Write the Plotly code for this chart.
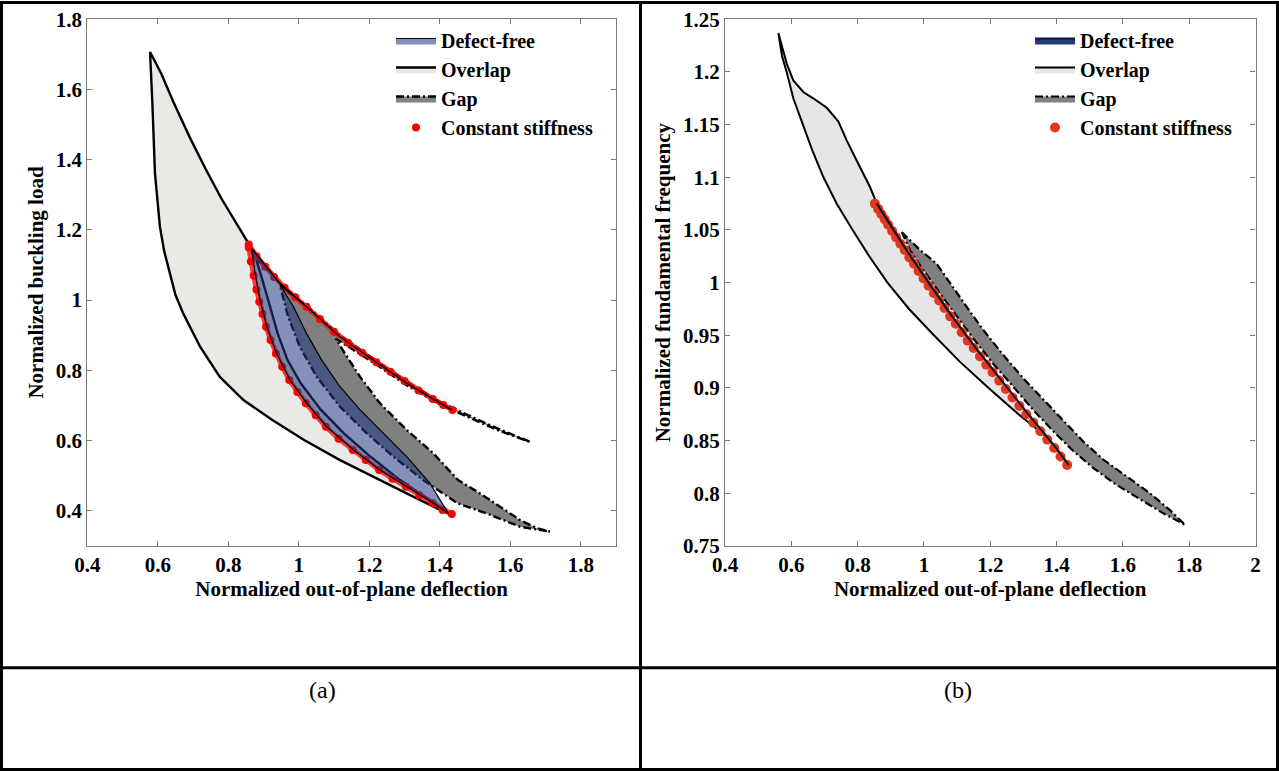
import plotly.graph_objects as go

# ---------------- Panel (a): normalized buckling load ----------------
a_ovl_lower_x = [1.424, 1.401, 1.306, 1.211, 1.117, 1.015, 0.925, 0.843, 0.776, 0.720, 0.672, 0.650, 0.635, 0.618, 0.606, 0.592, 0.585, 0.578]
a_ovl_lower_y = [0.392, 0.402, 0.449, 0.497, 0.544, 0.601, 0.658, 0.715, 0.781, 0.867, 0.962, 1.015, 1.076, 1.140, 1.209, 1.361, 1.551, 1.707]
a_ovl_upper_x = [0.610, 0.644, 0.690, 0.735, 0.780, 0.825, 0.866]
a_ovl_upper_y = [1.645, 1.565, 1.465, 1.375, 1.290, 1.215, 1.147]
a_spike_x = [0.866, 0.905, 0.947, 1.022, 1.117, 1.211, 1.306, 1.401, 1.434]
a_spike_y = [1.147, 1.098, 1.047, 0.981, 0.895, 0.829, 0.763, 0.706, 0.687]
a_ovl_inner_x = [0.880, 0.897, 0.918, 0.940, 0.968, 1.006, 1.063, 1.128, 1.203, 1.287, 1.370, 1.424]
a_ovl_inner_y = [1.114, 1.057, 0.981, 0.905, 0.829, 0.762, 0.687, 0.620, 0.554, 0.487, 0.430, 0.392]

a_df_left_x = [0.866, 0.876, 0.890, 0.909, 0.937, 0.975, 1.022, 1.079, 1.155, 1.230, 1.306, 1.382, 1.424]
a_df_left_y = [1.147, 1.076, 1.000, 0.924, 0.848, 0.772, 0.706, 0.639, 0.573, 0.516, 0.468, 0.421, 0.392]
a_df_right_x = [0.947, 0.985, 1.022, 1.065, 1.117, 1.174, 1.240, 1.306, 1.372, 1.424]
a_df_right_y = [1.043, 0.981, 0.905, 0.829, 0.753, 0.687, 0.620, 0.554, 0.478, 0.392]

a_gap_spike_x = [0.947, 1.022, 1.117, 1.211, 1.306, 1.401, 1.480, 1.560, 1.658]
a_gap_spike_y = [1.040, 0.985, 0.899, 0.833, 0.767, 0.710, 0.672, 0.636, 0.595]
a_gap_back_x = [1.560, 1.480, 1.401, 1.306, 1.211, 1.105]
a_gap_back_y = [0.631, 0.667, 0.702, 0.757, 0.822, 0.890]
a_gap_right_x = [1.122, 1.174, 1.230, 1.306, 1.382, 1.452, 1.514, 1.571, 1.628, 1.675, 1.713]
a_gap_right_y = [0.862, 0.781, 0.706, 0.630, 0.563, 0.487, 0.449, 0.411, 0.373, 0.350, 0.340]
a_gap_lower_x = [1.628, 1.533, 1.452, 1.353, 1.268, 1.193, 1.117, 1.051, 1.003, 0.970, 0.947]
a_gap_lower_y = [0.354, 0.392, 0.420, 0.487, 0.554, 0.620, 0.696, 0.781, 0.867, 0.952, 1.040]

a_cs1_x = [0.858, 0.880, 0.905, 0.930, 0.960, 0.990, 1.022, 1.060, 1.100, 1.140, 1.180, 1.220, 1.260, 1.300, 1.340, 1.380, 1.410, 1.436]
a_cs1_y = [1.158, 1.125, 1.095, 1.066, 1.035, 1.008, 0.981, 0.946, 0.910, 0.878, 0.850, 0.823, 0.796, 0.769, 0.742, 0.718, 0.701, 0.687]
a_cs2_x = [0.858, 0.864, 0.872, 0.880, 0.888, 0.897, 0.907, 0.920, 0.935, 0.953, 0.973, 0.996, 1.020, 1.048, 1.077, 1.113, 1.153, 1.190, 1.228, 1.266, 1.304, 1.342, 1.380, 1.408, 1.434]
a_cs2_y = [1.150, 1.110, 1.070, 1.030, 0.995, 0.960, 0.924, 0.886, 0.848, 0.810, 0.772, 0.738, 0.706, 0.672, 0.639, 0.605, 0.573, 0.544, 0.516, 0.491, 0.468, 0.444, 0.421, 0.402, 0.390]

a_xticks = [0.4, 0.6, 0.8, 1.0, 1.2, 1.4, 1.6, 1.8]
a_yticks = [0.4, 0.6, 0.8, 1.0, 1.2, 1.4, 1.6, 1.8]

# ---------------- Panel (b): normalized fundamental frequency ----------------
b_ovl_upper_x = [0.561, 0.586, 0.606, 0.636, 0.666, 0.707, 0.742, 0.767, 0.797, 0.837, 0.858]
b_ovl_upper_y = [1.237, 1.208, 1.192, 1.181, 1.175, 1.166, 1.153, 1.135, 1.116, 1.091, 1.075]
b_df_x = [0.858, 0.910, 0.962, 1.020, 1.085, 1.156, 1.233, 1.315, 1.399, 1.436]
b_df_y = [1.075, 1.049, 1.024, 0.997, 0.968, 0.938, 0.907, 0.875, 0.843, 0.827]
b_ovl_lower_x = [1.372, 1.285, 1.195, 1.108, 1.030, 0.955, 0.890, 0.835, 0.785, 0.737, 0.697, 0.664, 0.635, 0.606, 0.586, 0.572, 0.561]
b_ovl_lower_y = [0.853, 0.875, 0.900, 0.925, 0.950, 0.975, 1.000, 1.025, 1.050, 1.075, 1.100, 1.125, 1.150, 1.175, 1.200, 1.215, 1.237]

b_gap_upper_x = [0.933, 0.988, 1.038, 1.079, 1.129, 1.179, 1.240, 1.300, 1.360, 1.421, 1.481, 1.541, 1.612, 1.682, 1.742, 1.788]
b_gap_upper_y = [1.048, 1.031, 1.018, 0.999, 0.977, 0.955, 0.931, 0.909, 0.889, 0.868, 0.849, 0.832, 0.816, 0.800, 0.784, 0.770]
b_gap_lower_x = [1.722, 1.652, 1.581, 1.511, 1.451, 1.390, 1.330, 1.270, 1.209, 1.149, 1.099, 1.048, 0.998, 0.958, 0.933]
b_gap_lower_y = [0.781, 0.794, 0.808, 0.824, 0.840, 0.859, 0.879, 0.901, 0.923, 0.947, 0.968, 0.990, 1.012, 1.031, 1.048]

b_cs_x = [0.852, 0.862, 0.872, 0.882, 0.892, 0.904, 0.916, 0.929, 0.942, 0.956, 0.970, 0.984, 0.999, 1.014, 1.030, 1.046, 1.062, 1.079,
          1.096, 1.114, 1.132, 1.150, 1.169, 1.188, 1.207, 1.227, 1.247, 1.267, 1.288, 1.309, 1.330, 1.351, 1.372, 1.393, 1.412, 1.432]
b_cs_y = [1.075, 1.070, 1.065, 1.060, 1.055, 1.049, 1.043, 1.037, 1.031, 1.024, 1.018, 1.011, 1.004, 0.997, 0.990, 0.983, 0.976, 0.968,
          0.961, 0.953, 0.945, 0.938, 0.930, 0.922, 0.915, 0.907, 0.899, 0.891, 0.883, 0.875, 0.867, 0.859, 0.851, 0.843, 0.835, 0.827]

b_xticks = [0.4, 0.6, 0.8, 1.0, 1.2, 1.4, 1.6, 1.8, 2.0]
b_yticks = [0.75, 0.8, 0.85, 0.9, 0.95, 1.0, 1.05, 1.1, 1.15, 1.2, 1.25]

series_names = ["Defect-free", "Overlap", "Gap", "Constant stiffness"]
x_title = "Normalized out-of-plane deflection"
a_y_title = "Normalized buckling load"
b_y_title = "Normalized fundamental frequency"
panel_labels = ["(a)", "(b)"]

# ---------------- build polygons ----------------
def rev(v):
    return list(reversed(v))

a_ovl_x = a_ovl_lower_x + a_ovl_upper_x + a_spike_x[1:] + rev(a_spike_x[1:-1]) + a_ovl_inner_x
a_ovl_y = a_ovl_lower_y + a_ovl_upper_y + a_spike_y[1:] + rev(a_spike_y[1:-1]) + a_ovl_inner_y
a_df_x = a_spike_x + rev(a_spike_x[3:-1]) + a_df_right_x + rev(a_df_left_x)
a_df_y = a_spike_y + rev(a_spike_y[3:-1]) + a_df_right_y + rev(a_df_left_y)
a_gap_x = a_gap_spike_x + a_gap_back_x + a_gap_right_x + a_gap_lower_x
a_gap_y = a_gap_spike_y + a_gap_back_y + a_gap_right_y + a_gap_lower_y
a_cs_x = a_cs1_x + [None] + a_cs2_x
a_cs_y = a_cs1_y + [None] + a_cs2_y

b_ovl_x = b_ovl_upper_x + b_df_x[1:] + b_ovl_lower_x
b_ovl_y = b_ovl_upper_y + b_df_y[1:] + b_ovl_lower_y
b_dfp_x = b_df_x + rev(b_df_x[:-1])
b_dfp_y = b_df_y + rev(b_df_y[:-1])
b_gap_x = b_gap_upper_x + b_gap_lower_x
b_gap_y = b_gap_upper_y + b_gap_lower_y

FONT = "Liberation Serif"
DASHDOT = "8px,3px,2px,3px"

fig = go.Figure()

# panel (a)
fig.add_trace(go.Scatter(x=a_ovl_x, y=a_ovl_y, mode="lines", fill="toself", fillcolor="#e9e9e6",
                         line=dict(color="black", width=2.4), name=series_names[1], legendrank=2,
                         legend="legend", xaxis="x", yaxis="y"))
fig.add_trace(go.Scatter(x=a_gap_x, y=a_gap_y, mode="lines", fill="toself", fillcolor="#808080",
                         line=dict(color="black", width=2.4, dash=DASHDOT), name=series_names[2], legendrank=3,
                         legend="legend", xaxis="x", yaxis="y"))
fig.add_trace(go.Scatter(x=a_cs_x, y=a_cs_y, mode="lines", line=dict(color="rgba(255,0,0,0.75)", width=5),
                         showlegend=False, hoverinfo="skip", xaxis="x", yaxis="y"))
fig.add_trace(go.Scatter(x=a_cs_x, y=a_cs_y, mode="markers", marker=dict(color="#ff0000", size=8),
                         name=series_names[3], legendrank=4, legend="legend", xaxis="x", yaxis="y"))
fig.add_trace(go.Scatter(x=a_df_x, y=a_df_y, mode="lines", fill="toself", fillcolor="rgba(31,56,128,0.55)",
                         line=dict(color="black", width=1.2), name=series_names[0], legendrank=1,
                         legend="legend", xaxis="x", yaxis="y"))

# panel (b)
fig.add_trace(go.Scatter(x=b_ovl_x, y=b_ovl_y, mode="lines", fill="toself", fillcolor="#e6e6e6",
                         line=dict(color="black", width=2), name=series_names[1], legendrank=2,
                         legend="legend2", xaxis="x2", yaxis="y2"))
fig.add_trace(go.Scatter(x=b_gap_x, y=b_gap_y, mode="lines", fill="toself", fillcolor="#808080",
                         line=dict(color="black", width=2.2, dash=DASHDOT), name=series_names[2], legendrank=3,
                         legend="legend2", xaxis="x2", yaxis="y2"))
fig.add_trace(go.Scatter(x=b_cs_x, y=b_cs_y, mode="markers", marker=dict(color="#e2371b", size=10),
                         name=series_names[3], legendrank=4, legend="legend2", xaxis="x2", yaxis="y2"))
fig.add_trace(go.Scatter(x=b_dfp_x, y=b_dfp_y, mode="lines", fill="toself", fillcolor="#213a7c",
                         line=dict(color="#10162e", width=2), name=series_names[0], legendrank=1,
                         legend="legend2", xaxis="x2", yaxis="y2"))

W, H = 1279, 771
tickfont = dict(family=FONT, size=21, color="black", weight="bold")
titlefont = dict(family=FONT, size=21, color="black", weight="bold")
axcommon = dict(showline=True, mirror="ticks", linecolor="#7a7a7a", linewidth=1.3, ticks="inside",
                ticklen=5, tickcolor="#7a7a7a", showgrid=False, zeroline=False, tickfont=tickfont,
                automargin=False)
legfont = dict(family=FONT, size=20, color="black", weight="bold")

fig.update_layout(
    width=W, height=H, margin=dict(l=0, r=0, t=0, b=0, autoexpand=False),
    paper_bgcolor="white", plot_bgcolor="white",
    xaxis=dict(domain=[87.3 / W, 616 / W], range=[0.4, 1.9], tickvals=a_xticks, anchor="y",
               title=dict(text=x_title, font=titlefont, standoff=2), **axcommon),
    yaxis=dict(domain=[(H - 545.7) / H, (H - 19.3) / H], range=[0.3, 1.8], tickvals=a_yticks, anchor="x",
               title=dict(text=a_y_title, font=titlefont, standoff=6), **axcommon),
    xaxis2=dict(domain=[725 / W, 1255.5 / W], range=[0.4, 2.0], tickvals=b_xticks, anchor="y2",
                title=dict(text=x_title, font=titlefont, standoff=2), **axcommon),
    yaxis2=dict(domain=[(H - 546) / H, (H - 19.3) / H], range=[0.75, 1.25], tickvals=b_yticks, anchor="x2",
                title=dict(text=b_y_title, font=titlefont, standoff=6), **axcommon),
    legend=dict(x=391 / W, y=(H - 21) / H, xanchor="left", yanchor="top", bgcolor="rgba(0,0,0,0)",
                font=legfont, itemwidth=40, tracegroupgap=0),
    legend2=dict(x=1030 / W, y=(H - 21) / H, xanchor="left", yanchor="top", bgcolor="rgba(0,0,0,0)",
                 font=legfont, itemwidth=40, tracegroupgap=0),
)

# table frame around the two panels
frame = dict(type="line", xref="paper", yref="paper", line=dict(color="black", width=3), layer="above")
fig.add_shape(type="rect", xref="paper", yref="paper", x0=1.5 / W, x1=1277.5 / W, y0=1.5 / H, y1=(H - 2.5) / H,
              line=dict(color="black", width=3), fillcolor="rgba(0,0,0,0)")
fig.add_shape(x0=640.5 / W, x1=640.5 / W, y0=1.5 / H, y1=(H - 2.5) / H, **frame)
fig.add_shape(x0=1.5 / W, x1=1277.5 / W, y0=(H - 667.7) / H, y1=(H - 667.7) / H, **frame)

for lbl, xc in zip(panel_labels, [322, 958]):
    fig.add_annotation(text=lbl, xref="paper", yref="paper", x=xc / W, y=(H - 690) / H, showarrow=False,
                       font=dict(family=FONT, size=24, color="black"), xanchor="center", yanchor="middle")

fig.write_html("out.html", config={"displayModeBar": False},
               post_script="document.body.style.margin='0';document.body.style.padding='0';"
                           "document.body.style.overflow='hidden';")
